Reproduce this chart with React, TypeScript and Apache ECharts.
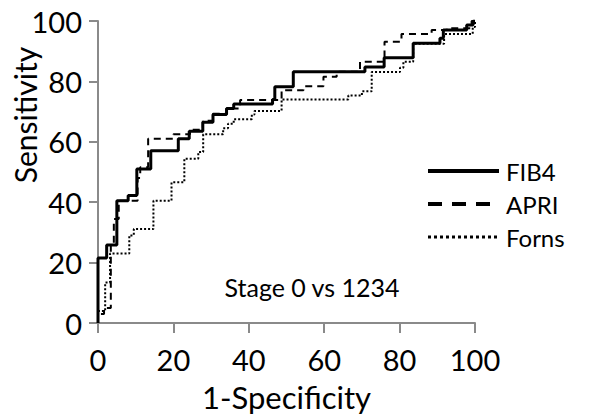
import React, { useEffect, useRef } from "react";
import * as echarts from "echarts";

const xTicks = [0, 20, 40, 60, 80, 100];
const seriesNames = ["FIB4", "APRI", "Forns"];

// ROC points [1-specificity, sensitivity] (step "end")
const fib4: [number, number][] = [
  [0, 0], [0, 21.5], [2.3, 25.8], [5, 40.5], [8, 42.2], [10.3, 51], [14, 57],
  [21.3, 61], [24.2, 63.5], [27.8, 66.5], [30.5, 69], [34.1, 71], [36, 72.5],
  [46.3, 74], [46.9, 78.2], [51.8, 83.2], [70.8, 84.8], [75.9, 87.8],
  [83.6, 92.6], [90.7, 94.3], [91.6, 97], [97.8, 98.7], [99.5, 100], [100, 100],
];
const apri: [number, number][] = [
  [0, 0], [0, 3], [1.6, 5], [3.4, 25.6], [4.2, 34.4], [5.5, 40.5], [10.5, 48],
  [11.2, 51.6], [13.3, 61], [20, 62.5], [24.4, 64], [27.8, 67], [30.5, 69.3],
  [34.1, 71], [37.7, 73.8], [48.7, 77.1], [54.5, 78.4], [59.8, 81.5],
  [63.3, 83.2], [69.5, 86.5], [76, 93.1], [80.5, 95.7], [88.5, 97],
  [92.5, 97.6], [99.1, 100], [100, 100],
];
const forns: [number, number][] = [
  [0, 0], [0, 4], [1.9, 13.4], [3.2, 23], [8.3, 29], [9.5, 31.1], [14.7, 40.5],
  [19.5, 46.6], [22.9, 54.4], [26.6, 56.6], [27.9, 62.5], [33.2, 64.5],
  [34.5, 66], [36, 67.5], [40.8, 69], [41.5, 70.2], [48.7, 74], [66.4, 75.3],
  [70, 76.7], [72.6, 83.1], [80.1, 84.5], [81, 86.5], [83.6, 92.5],
  [91.8, 95.7], [99.4, 98], [100, 100],
];

const FONT = "Lato";
const AXIS_COLOR = "#8a8a8a";

export default function App() {
  const ref = useRef<HTMLDivElement>(null);
  useEffect(() => {
    const chart = echarts.init(ref.current!, null, { renderer: "svg" });
    const lineStyles: any[] = [
      { color: "#000", width: 3, type: "solid" },
      { color: "#000", width: 2, type: [7, 5] },
      { color: "#000", width: 2, type: [2, 2] },
    ];
    const legendLineStyles: any[] = [
      { color: "#000", width: 4, type: "solid" },
      { color: "#000", width: 4, type: [14, 10] },
      { color: "#000", width: 3, type: [3, 3] },
    ];
    const datasets = [fib4, apri, forns];
    chart.setOption({
      animation: false,
      backgroundColor: "#fff",
      grid: {
        left: 98,
        top: 21,
        width: 377,
        height: 302,
        containLabel: false,
        outerBoundsMode: "none",
      },
      xAxis: {
        type: "value",
        min: xTicks[0],
        max: xTicks[xTicks.length - 1],
        interval: 20,
        name: "1-Specificity",
        nameLocation: "middle",
        nameGap: 58,
        nameTextStyle: { fontSize: 31, color: "#000", fontFamily: FONT },
        axisLine: { show: true, onZero: false, lineStyle: { color: AXIS_COLOR, width: 2 } },
        axisTick: { show: true, length: 10, lineStyle: { color: AXIS_COLOR, width: 2 } },
        axisLabel: { fontSize: 29, color: "#000", fontFamily: FONT, margin: 22 },
        splitLine: { show: false },
      },
      yAxis: {
        type: "value",
        min: 0,
        max: 100,
        interval: 20,
        axisLine: { show: true, onZero: false, lineStyle: { color: AXIS_COLOR, width: 2 } },
        axisTick: { show: true, length: 9, lineStyle: { color: AXIS_COLOR, width: 2 } },
        axisLabel: { fontSize: 29, color: "#000", fontFamily: FONT, margin: 16 },
        splitLine: { show: false },
      },
      legend: {
        orient: "vertical",
        left: 426,
        top: 159,
        padding: 0,
        itemWidth: 71,
        itemHeight: 24,
        itemGap: 9,
        itemStyle: { opacity: 0, color: "rgba(0,0,0,0)", borderWidth: 0 },
        textStyle: { fontSize: 24, color: "#000", fontFamily: FONT, padding: [0, 0, 0, 2] },
        data: seriesNames.map((name, i) => ({
          name,
          lineStyle: legendLineStyles[i],
          itemStyle: { opacity: 0, color: "rgba(0,0,0,0)", borderWidth: 0 },
        })),
      },
      graphic: [
        {
          type: "text",
          x: 312,
          y: 287,
          style: {
            text: "Stage 0 vs 1234",
            fontSize: 25,
            fontFamily: FONT,
            fill: "#000",
            align: "center",
            verticalAlign: "middle",
            textAlign: "center",
            textVerticalAlign: "middle",
          },
        },
        {
          type: "text",
          x: 25,
          y: 115,
          rotation: Math.PI / 2,
          style: {
            text: "Sensitivity",
            fontSize: 30,
            fontFamily: FONT,
            fill: "#000",
            align: "center",
            verticalAlign: "middle",
            textAlign: "center",
            textVerticalAlign: "middle",
          },
        },
      ],
      series: seriesNames.map((name, i) => ({
        name,
        type: "line",
        step: "end",
        symbol: "none",
        data: datasets[i],
        lineStyle: lineStyles[i],
        itemStyle: { color: "#000" },
        z: 3 - i,
      })),
    });
    return () => chart.dispose();
  }, []);
  return (
    <div
      ref={ref}
      style={{ position: "absolute", left: 0, top: 0, width: 613, height: 416 }}
    />
  );
}
